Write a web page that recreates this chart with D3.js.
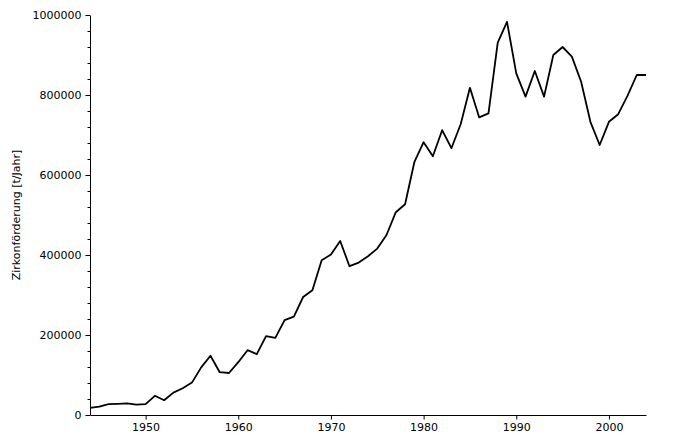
<!DOCTYPE html>
<html>
<head>
<meta charset="utf-8">
<script src="https://cdn.jsdelivr.net/npm/d3@7"></script>
<style>
  body { margin: 0; background: #fff; }
  svg text { font-family: "DejaVu Sans", sans-serif; }
</style>
</head>
<body>
<svg id="chart" width="686" height="446"></svg>
<script>
// Zirkonförderung pro Jahr
const years = d3.range(1944, 2005)
const production = [
  18000, 21000, 27000, 28000, 29000, 26000, 27000, 48000, 37000, 56000,
  67000, 81000, 119000, 148000, 107000, 105000, 132000, 162000, 152000, 197000,
  193000, 237000, 246000, 295000, 312000, 387000, 401000, 435000, 372000, 381000,
  397000, 416000, 450000, 507000, 527000, 632000, 682000, 647000, 712000, 667000,
  727000, 818000, 744000, 754000, 931000, 983000, 854000, 796000, 860000, 796000,
  900000, 920000, 896000, 833000, 733000, 675000, 733000, 752000, 798000, 850000,
  850000
]
const xTicks = [1950, 1960, 1970, 1980, 1990, 2000]
const yTicks = [0, 200000, 400000, 600000, 800000, 1000000]

const margin = { top: 15, right: 40, bottom: 31, left: 90 }
const width = 686, height = 446

const svg = d3.select('#chart')

const x = d3.scaleLinear()
  .domain([1944, 2004])
  .range([margin.left, width - margin.right])

const y = d3.scaleLinear()
  .domain([0, 1000000])
  .range([height - margin.bottom, margin.top])

// minor ticks on y
svg.append('g')
  .attr('transform', `translate(${margin.left},0)`)
  .call(d3.axisLeft(y).tickValues(d3.range(0, 1000001, 40000)).tickSize(2.5).tickFormat(''))
  .call(g => g.select('.domain').remove())
  .call(g => g.selectAll('line').attr('stroke', '#000'))

svg.append('g')
  .attr('transform', `translate(${margin.left},0)`)
  .call(d3.axisLeft(y).tickValues(yTicks).tickSize(4.5).tickPadding(4).tickSizeOuter(0).tickFormat(d3.format('d')))
  .call(g => g.selectAll('text').attr('font-size', 11).attr('fill', '#000'))
  .call(g => g.selectAll('line, .domain').attr('stroke', '#000'))

svg.append('g')
  .attr('transform', `translate(0,${height - margin.bottom})`)
  .call(d3.axisBottom(x).tickValues(xTicks).tickSize(4.5).tickPadding(4).tickSizeOuter(0).tickFormat(d3.format('d')))
  .call(g => g.selectAll('text').attr('font-size', 11).attr('fill', '#000'))
  .call(g => g.selectAll('line, .domain').attr('stroke', '#000'))

svg.append('text')
  .attr('transform', `translate(20,${(margin.top + height - margin.bottom) / 2}) rotate(-90)`)
  .attr('text-anchor', 'middle')
  .attr('font-size', 11)
  .text('Zirkonförderung [t/Jahr]')

const line = d3.line()
  .x((d, i) => x(years[i]))
  .y(d => y(d))

svg.append('path')
  .datum(production)
  .attr('fill', 'none')
  .attr('stroke', '#000')
  .attr('stroke-width', 1.8)
  .attr('stroke-linejoin', 'round')
  .attr('d', line)
</script>
</body>
</html>
